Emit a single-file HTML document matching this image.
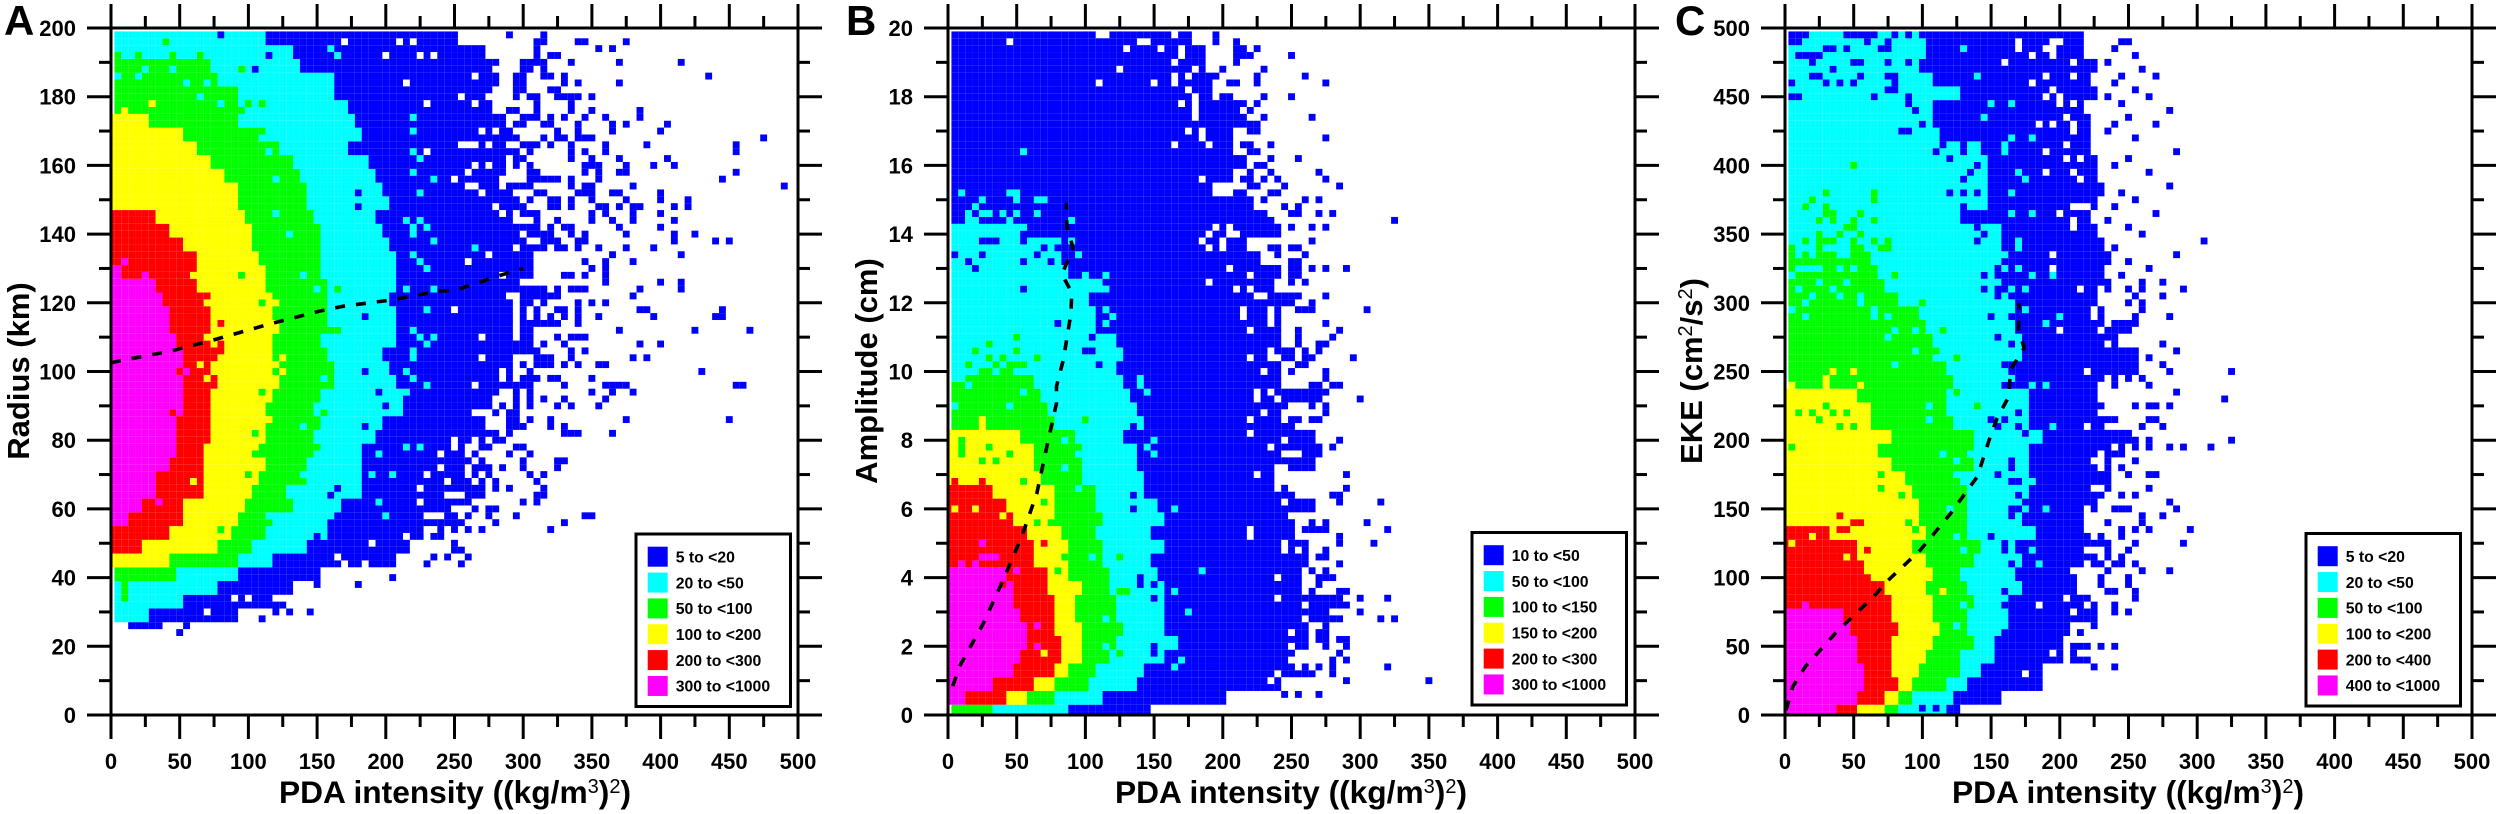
<!DOCTYPE html>
<html lang="en">
<head>
<meta charset="utf-8">
<title>PDA intensity density panels</title>
<style>
html,body{margin:0;padding:0;background:#fff;width:2500px;height:814px;overflow:hidden}
svg{display:block}
text{font-family:"Liberation Sans",Arial,sans-serif;font-weight:700;fill:#000}
</style>
</head>
<body>
<svg id="figure" xmlns="http://www.w3.org/2000/svg" width="2500" height="814" viewBox="0 0 2500 814">
  <rect x="0" y="0" width="2500" height="814" fill="#fff"/>
  <text x="4" y="35" font-size="42">A</text>
  <text x="846" y="35" font-size="42">B</text>
  <text x="1675" y="35" font-size="42">C</text>
  <text transform="translate(29,371) rotate(-90)" text-anchor="middle" font-size="31">Radius (km)</text>
  <text transform="translate(877,371) rotate(-90)" text-anchor="middle" font-size="31">Amplitude (cm)</text>
  <text transform="translate(1702,371) rotate(-90)" text-anchor="middle" font-size="31">EKE (cm<tspan dy="-10" font-size="20" font-weight="400">2</tspan><tspan dy="10">/s</tspan><tspan dy="-10" font-size="20" font-weight="400">2</tspan><tspan dy="10">)</tspan></text>
  <text x="455" y="803" text-anchor="middle" font-size="31.7">PDA intensity ((kg/m<tspan dy="-10" font-size="20" font-weight="400">3</tspan><tspan dy="10">)</tspan><tspan dy="-10" font-size="20" font-weight="400">2</tspan><tspan dy="10">)</tspan></text>
  <text x="1291" y="803" text-anchor="middle" font-size="31.7">PDA intensity ((kg/m<tspan dy="-10" font-size="20" font-weight="400">3</tspan><tspan dy="10">)</tspan><tspan dy="-10" font-size="20" font-weight="400">2</tspan><tspan dy="10">)</tspan></text>
  <text x="2128" y="803" text-anchor="middle" font-size="31.7">PDA intensity ((kg/m<tspan dy="-10" font-size="20" font-weight="400">3</tspan><tspan dy="10">)</tspan><tspan dy="-10" font-size="20" font-weight="400">2</tspan><tspan dy="10">)</tspan></text>
</svg>
<script>
const xTickLabels=[0,50,100,150,200,250,300,350,400,450,500];
const yTickLabelsA=[0,20,40,60,80,100,120,140,160,180,200];
const yTickLabelsB=[0,2,4,6,8,10,12,14,16,18,20];
const yTickLabelsC=[0,50,100,150,200,250,300,350,400,450,500];
const classColors=['#0000ff','#00ffff','#00ff00','#ffff00','#ff0000','#ff00ff'];
const legendLabelsA=['5 to <20','20 to <50','50 to <100','100 to <200','200 to <300','300 to <1000'];
const legendLabelsB=['10 to <50','50 to <100','100 to <150','150 to <200','200 to <300','300 to <1000'];
const legendLabelsC=['5 to <20','20 to <50','50 to <100','100 to <200','200 to <400','400 to <1000'];

/* Class upper limits in PDA intensity, one value per 2-row band, from the lowest band up */
const aMagenta=[0,0,0,0,0,0,0,0,0,0,0,0,0,0,12,24,30,34,40,45,45,45,50,50,50,50,50,45,42,40,36,32,5,0,0,0,0,0,0,0,0,0,0,0,0,0,0,0,0,0];
const aRed=[0,0,0,0,0,0,0,0,0,0,0,0,22,42,51,50,65,66,66,68,71,71,71,72,76,73,76,73,73,70,67,64,64,60,50,41,30,0,0,0,0,0,0,0,0,0,0,0,0,0];
const aYellow=[0,0,0,0,0,0,0,0,0,0,0,40,75,85,93,98,100,108,110,107,110,110,113,115,120,115,115,115,120,118,115,112,110,106,103,102,99,94,90,80,72,62,52,25,0,0,0,0,0,0];
const aGreen=[0,0,0,0,0,0,0,0,0,0,45,90,100,110,118,130,128,135,140,145,145,150,149,150,162,161,157,153,157,157,157,157,152,150,150,150,147,143,143,136,130,120,108,94,95,90,75,72,0,0];
const aCyan=[0,0,0,0,0,0,0,25,50,75,90,118,140,158,160,168,180,184,184,184,193,195,210,212,208,200,198,208,209,205,200,205,205,205,200,198,194,200,198,190,186,170,184,177,170,162,160,138,133,112];
const aBlue=[0,0,0,0,0,0,0,90,115,130,150,205,215,225,245,245,250,250,255,262,270,270,280,280,290,290,295,295,290,290,290,295,305,305,300,295,290,295,290,285,285,285,290,285,275,275,280,280,270,250];

const bMagenta=[0,10,30,46,51,56,56,51,46,46,40,0,0,0,0,0,0,0,0,0,0,0,0,0,0,0,0,0,0,0,0,0,0,0,0,0,0,0,0,0,0,0,0,0,0,0,0,0,0,0];
const bRed=[0,40,62,75,80,80,75,75,75,71,71,60,60,56,46,40,31,0,0,0,0,0,0,0,0,0,0,0,0,0,0,0,0,0,0,0,0,0,0,0,0,0,0,0,0,0,0,0,0,0];
const bYellow=[0,55,78,88,97,97,97,93,93,97,88,88,88,83,77,77,77,67,62,60,52,0,0,0,0,0,0,0,0,0,0,0,0,0,0,0,0,0,0,0,0,0,0,0,0,0,0,0,0,0];
const bGreen=[33,75,100,107,117,123,125,122,122,117,117,111,111,107,112,107,107,97,97,93,91,77,72,67,60,0,0,0,0,0,0,0,0,0,0,0,0,0,0,0,0,0,0,0,0,0,0,0,0,0];
const bCyan=[85,110,135,142,157,167,157,157,157,157,152,150,157,148,157,150,147,142,142,137,128,142,137,133,125,123,125,120,108,108,102,111,87,82,82,55,0,0,0,0,0,0,0,0,0,0,0,0,0,0];
const bBlue=[147,200,240,262,254,262,262,277,286,256,258,262,262,253,252,266,254,237,267,271,267,252,247,271,242,244,252,242,242,243,252,237,242,227,218,242,232,215,190,205,215,205,208,215,212,193,191,185,188,176];

const cMagenta=[36,51,56,56,51,51,46,40,0,0,0,0,0,0,0,0,0,0,0,0,0,0,0,0,0,0,0,0,0,0,0,0,0,0,0,0,0,0,0,0,0,0,0,0,0,0,0,0,0,0];
const cRed=[51,70,80,76,76,76,81,76,76,71,62,56,51,30,0,0,0,0,0,0,0,0,0,0,0,0,0,0,0,0,0,0,0,0,0,0,0,0,0,0,0,0,0,0,0,0,0,0,0,0];
const cYellow=[74,81,94,98,103,108,113,108,108,103,108,102,94,102,97,97,90,87,78,68,78,62,62,50,0,0,0,0,0,0,0,0,0,0,0,0,0,0,0,0,0,0,0,0,0,0,0,0,0,0];
const cGreen=[84,93,118,128,128,137,132,132,137,132,128,137,142,132,132,130,132,128,136,132,132,123,118,117,123,118,112,107,102,97,83,73,67,60,0,0,0,0,0,0,0,0,0,0,0,0,0,0,0,0];
const cCyan=[118,123,132,142,153,154,162,164,162,174,169,171,166,182,171,176,177,177,177,177,186,176,177,177,168,163,174,173,168,168,166,159,153,155,159,157,128,149,149,147,147,142,113,108,108,128,108,98,103,103];
const cBlue=[127,157,188,188,210,208,208,227,222,213,213,227,237,222,217,227,232,237,237,247,251,242,230,227,233,257,257,243,253,231,227,237,232,235,232,228,222,225,230,225,225,220,220,220,215,225,222,225,215,218];

/* Individual bins that differ from the bands: [PDA intensity, y value] */
const aSpeckBlue=[[15,26],[20,26],[25,26],[30,26],[35,26],[50,24],[55,26],[110,28],[120,30],[120,32],[125,32],[130,30],[145,30],[150,38],[180,38],[206,40],[140,40],[230,44],[256,44],[246,46],[260,46],[236,46],[251,48],[256,48],[251,50],[321,54],[271,54],[260,54],[251,54],[331,56],[280,56],[296,58],[345,58],[350,58],[275,58],[265,60],[275,60],[280,60],[300,62],[260,62],[311,62],[316,64],[311,64],[316,66],[291,66],[280,66],[311,68],[270,68],[280,68],[305,70],[316,70],[275,70],[326,72],[300,72],[286,72],[265,72],[270,72],[275,72],[331,74],[326,74],[300,74],[270,74],[305,76],[288,76],[293,78],[298,78],
[270,82],[275,82],[280,82],[285,80],[290,82],[280,80],[270,78],[275,78],[265,76],[250,74],[255,74],[260,74],[245,72],[250,72],[255,72],[245,70],[250,70],[255,70],[265,70],[255,68],[260,68],[250,66],[255,66],[260,66],[265,66],[270,66],[260,64],[265,64],[270,64],[255,62],[250,62],[245,60],[240,60],[260,58],[250,58],[255,56],[250,56],[245,56],[240,54],[235,52],[240,52],
[298,190],[303,190],[298,188],[303,188],[293,186],[298,186],[296,184],[296,182],[300,184],[300,182],[296,180],[305,180],[310,180],[310,178],[310,176],[288,176],[293,176],[296,176],[300,174],[305,174],[310,174],[296,172],[300,172],[315,172],[320,172],[286,170],[291,170],[293,168],[300,166],[305,166],[310,166],[291,164],[296,164],[305,164],[296,162],[300,162],[296,160],[305,160],[305,158],[305,156],[310,158],[310,156],[315,156],[320,156],[325,156],[296,154],[300,154],[305,154],[310,152],[315,152],[320,150],[325,150],[320,148],[325,148],[305,150],[300,148],[298,146],[303,146],[310,146],[310,144],[300,142],[305,142],[310,142],[320,142],[305,140],[310,140],[315,140],[320,140],[315,138],[320,138],[325,138],[300,136],[305,136],[310,136],[315,136],[325,136],[330,136],
[291,198],[316,198],[315,196],[310,196],[341,196],[345,196],[376,196],[356,194],[366,194],[310,194],[310,192],[320,192],[325,192],[336,190],[371,190],[416,190],[310,190],[315,190],[315,188],[436,186],[316,186],[320,186],[330,186],[330,184],[341,184],[371,184],[320,182],[325,182],[325,180],[330,180],[335,180],[341,180],[351,180],[335,178],[335,176],[351,176],[386,176],[386,174],[320,174],[330,174],[345,174],[360,174],[366,172],[366,170],[376,172],[406,172],[401,170],[341,172],[341,170],[341,168],[345,168],[351,168],[325,170],[325,168],[330,168],[476,168],[316,168],[320,166],[335,166],[335,164],[335,162],[360,166],[360,164],[391,166],[456,166],[456,164],[345,164],[351,162],[351,160],[371,162],[406,162],[411,160],[396,160],[376,160],[376,158],[371,158],[345,160],[355,160],[345,158],[355,158],[355,156],[456,158],[446,156],[335,156],[335,154],[381,154],[491,154],[345,154],[351,154],[341,152],[345,152],[351,152],[366,152],[371,152],[401,152],[401,150],[421,150],[421,148],[376,150],[335,150],[335,148],[351,150],[356,148],[361,148],[371,148],[381,148],[386,148],[381,146],[381,144],[411,148],[351,146],[351,144],[361,146],[401,146],[366,144],[411,144],[325,144],[371,142],[401,142],[330,142],[335,142],[335,140],[376,140],[411,140],[411,138],[426,140],[441,138],[451,138],[345,140],[345,138],[341,138],[341,136],[356,136],[376,136],[396,136],[366,134],[416,134],[381,132],[345,132],[361,132],[361,130],[361,128],[361,126],[351,130],[335,128],[330,128],[345,128],[401,126],[416,126],[416,124],[386,124],[381,122],[335,124],[341,124],[345,124],[341,120],[341,118],[341,116],[341,114],[351,120],[361,120],[386,118],[391,118],[396,116],[446,118],[446,116],[441,116],[356,116],[371,112],[426,112],[466,112],[325,110],[335,110],[341,110],[345,110],[316,108],[330,108],[386,108],[401,108],[345,106],[335,106],[335,104],[320,104],[381,104],[391,104],[330,102],[341,102],[356,102],[361,102],[431,100],[351,98],[330,96],[361,96],[366,96],[371,96],[376,96],[456,96],[461,96],[351,94],[366,94],[381,94],[361,92],[316,92],[330,92],[325,90],[335,90],[356,90],[376,86],[451,86],[306,86],[320,86],[320,84],[330,84],[330,82],[335,82],[341,82],[366,82],
[300,124],[305,124],[310,124],[315,124],[325,124],[300,122],[305,122],[310,122],[315,122],[320,122],[325,122],[300,120],[305,120],[315,120],[300,118],[310,118],[325,118],[330,118],[300,116],[310,116],[320,116],[330,116],[300,114],[305,114],[310,114],[315,114],[320,114],[325,114],[300,112],[305,112],[300,110],[305,110],[300,108],[305,108],[300,106],[305,106],[310,106],[315,104],[310,104],[300,102],[310,102],[315,102],[320,102],[295,100],[305,100],[300,98],[305,98],[310,98],[320,98],[325,98],[295,96],[300,96],[305,96],[295,94],[305,94],[295,92],[305,92],[285,90],[295,90],[305,90],[280,88],[290,88],[295,88],[285,86],[290,86],[295,86],[285,84],[290,84],[295,84],[300,84],
[80,198],[105,188],[115,192],[115,196],[180,152],[180,148],[185,116],[185,100],[195,94],[200,90],[185,84],[165,66],[160,64],[170,62],[175,60],[160,56],[150,52]];
const aSpeckCyan=[[220,174],[220,170],[220,164],[225,162],[220,158],[235,156],[225,152],[215,144],[225,144],[230,142],[220,142],[220,140],[235,138],[265,136],[218,134],[225,132],[230,130],[215,124],[235,124],[230,118],[222,112],[225,110],[235,110],[230,108],[220,106],[220,104],[215,100],[220,98],[230,96],[215,94],[215,77],[225,78],[195,76],[205,70],[190,70],[195,62],[200,58],[140,128],[150,124],[140,84],[153,98],[115,58],[5,186],[20,186],[25,188],[45,188],[55,184],[70,183],[65,180],[80,178],[95,178],[120,156],[115,164],[120,146],[130,140],[140,128],[160,194],[165,192]];
const aSpeckGreen=[[165,124],[155,88],[140,68],[150,78],[162,112],[165,112],[95,128],[110,119],[110,94],[105,82],[105,76],[98,70],[78,53],[40,196],[5,192],[20,192],[43,192],[65,192],[15,190],[20,190],[25,190],[30,190],[35,190],[95,188],[110,178],[100,178],[110,170],[10,34],[10,36],[10,38],[10,40]];
const aSpeckYellow=[[120,120],[125,104],[120,102],[125,100],[115,86],[64,102],[68,98],[60,128],[70,110],[60,68],[8,176],[30,178]];
const aSpeckRed=[[78,114],[78,106],[78,108],[68,122],[44,87],[48,100]];
const aSpeckMagenta=[[53,100],[33,62],[18,60],[24,128],[8,126],[18,126],[3,124],[8,132]];
const aHoles=[[170,196],[210,196],[220,196],[200,192],[215,184],[225,192],[235,192],[230,178],[255,180],[265,178],[276,180],[265,186],[278,188],[270,170],[280,170],[255,166],[260,166],[265,166],[276,166],[230,164],[265,160],[276,160],[260,158],[250,156],[286,156],[286,154],[260,154],[265,154],[271,152],[280,148],[286,146],[296,146],[296,136],[276,134],[260,132],[286,128],[291,122],[250,118],[296,116],[271,110],[296,110],[271,104],[296,104],[286,100],[286,98],[296,100],[265,96],[291,94],[280,92],[280,90],[265,88],[270,88],[276,88],[276,86],[276,84],[286,86],[286,84],[270,110],[270,104],[250,80],[250,78],[265,80],[240,76],[260,78],[260,76],[270,76],[240,72],[230,70],[246,68],[225,66],[225,62],[246,64],[251,64],[255,60],[251,60],[230,58],[235,58],[240,58],[215,52],[190,50],[230,52],[230,50],[210,46],[165,46],[170,44],[185,44],[180,42],[190,42],[220,48],[90,34],[100,34],[70,30]];

const bSpeckBlue=[[195,19.8],[195,19.6],[210,19.6],[210,19.4],[210,19.2],[210,19],[215,19.4],[215,19.2],[220,19.2],[225,19.4],[250,19.2],[230,18.8],[200,18.8],[225,18.6],[225,18.4],[260,18.6],[275,18.4],[195,18.6],[205,18.4],[210,18.4],[200,18],[205,18],[230,18],[250,18],[210,17.8],[215,17.8],[225,17.8],[220,17.6],[265,17.4],[230,17.4],[205,17.4],[210,17.6],[215,17.2],[220,17.2],[225,17.2],[220,17],[225,17],[275,16.8],[205,16.8],[205,16.6],[215,16.6],[220,16.6],[220,16.4],[225,16.4],[235,16.6],[235,16.2],[255,16.2],[210,16.2],[215,16.2],[225,16],[230,16],[220,15.8],[215,15.6],[220,15.6],[235,15.8],[240,15.6],[270,15.8],[275,15.6],[230,15.6],[245,15.4],[285,15.4],[220,15.4],[225,15.4],[235,15.2],[240,15.2],[210,15.2],[215,15.2],[215,15],[220,15],[215,14.8],[220,14.8],[230,15],[260,15],[270,15],[245,14.8],[255,14.8],[250,14.6],[255,14.6],[270,14.6],[280,14.6],[225,14.6],[230,14.6],[325,14.4],[235,14.4],[230,14.2],[235,14.2],[240,14.2],[240,14],[250,14.2],[265,14.2],[275,14.2],[265,13.8],[235,13.6],[240,13.6],[240,13.4],[250,13.6],[255,13.6],[260,13.4],[250,13.2],[255,13.2],[250,13],[255,13],[250,12.8],[255,12.8],[250,12.6],[265,13],[275,13],[290,13],[260,12.6],[255,12.2],[275,12.2],[265,12],[265,11.8],[260,11.8],[255,11.8],[305,11.8],[275,11.4],[285,11.2],[255,11.2],[255,11],[255,10.8],[280,11],[270,10.8],[275,10.8],[270,10.6],[260,10.6],[260,10.4],[265,10.4],[295,10.4],[255,10.2],[260,10.2],[250,10],[275,10],[275,9.8],[265,9.6],[270,9.6],[280,9.6],[285,9.6],[275,9.4],[300,9.2],[265,9],[275,9],[275,8.8],[265,8.6],[270,8.6],[255,8.6],[285,8],[280,7.8],[290,7],[290,6.6],[280,6.4],[285,6.4],[285,6.2],[315,6.2],[265,5.6],[275,5.6],[305,5.6],[260,5.4],[265,5.4],[270,5.4],[275,5.4],[320,5.4],[285,5.2],[285,5],[310,5],[275,4.8],[275,4.6],[270,4.6],[285,4.4],[265,4.2],[275,4.2],[270,4],[275,4],[280,4],[270,3.8],[285,3.6],[290,3.6],[265,3.6],[300,3.4],[320,3.4],[265,3.4],[270,3.4],[275,3.4],[280,3.4],[285,3.4],[290,3.2],[300,3],[270,3],[275,3],[280,2.8],[285,2.8],[315,2.8],[325,2.8],[275,2.6],[270,2.4],[275,2.4],[270,2.2],[275,2.2],[285,2.2],[290,2.2],[290,2],[275,2],[285,1.8],[280,1.6],[280,1.4],[280,1.2],[290,1.6],[320,1.4],[290,1],[350,1],[270,1.4],[265,1.2],[270,0.6],[255,0.6],[245,0.6],
[5,13.4],[25,13.4],[15,13.2],[20,13],[55,13.2],[65,13.4],[70,13.6],[80,13.6],[75,13.2],[55,14],[55,13.8],[55,12.4],[25,13.8],[30,13.8],[35,13.8],[80,11.4],[105,11],[100,10.6],[105,10.6],[110,10.2],[135,8.4],[135,8.2],[130,8],[140,7.8],[140,7.6],[140,7.4],[140,7.2],[145,6.6],[145,6.4],[135,6.4],[135,6],[150,5.4],[150,5.2],[150,4.6],[150,4.4],[140,4],[140,3.8],[150,3.8],[150,3.4],[150,2],[150,1.8],[145,1.4]];
const bSpeckCyan=[[10,15.2],[45,15.2],[50,15.2],[50,15],[65,15],[70,15],[25,15],[20,14.8],[15,14.6],[15,14.4],[20,14.4],[25,14.6],[30,14.6],[40,14.6],[50,14.6],[65,14.6],[45,14.4],[90,14.4],[55,16.4],[90,13.8],[95,13.4],[100,12.8],[105,12.6],[115,12.8],[115,12.4],[185,4.2],[165,6],[175,3],[170,1.6],[165,1.4],[165,3.6],[150,8],[145,7.8],[152,7.6],[140,9.8],[140,9.6],[145,9.4],[115,11.8],[120,11.6],[115,11.4],[115,12.4],[105,4.6],[115,2.8],[115,2],[85,7.9],[85,7.2],[95,6.6],[15,9.6],[5,9],[45,9],[55,9.4],[5,9.8],[10,9.8]];
const bSpeckGreen=[[50,11],[30,10.8],[20,10.6],[50,10.6],[30,10.4],[40,10.4],[65,10.4],[15,10.2],[35,10.2],[45,10.2],[50,10.2],[55,10.2],[25,10],[30,10],[40,10],[45,10],[10,7.6],[25,7.4],[35,7.4],[10,8],[10,7.8],[30,7.8],[45,7.6],[55,6.8],[70,6.2],[65,5.6],[75,5.6],[85,4.6],[80,4.2],[100,8.6],[95,7.8],[125,4.6],[128,3.6],[123,3.6],[125,1.8]];
const bSpeckYellow=[[5,8],[15,8],[25,8.4],[25,8.6],[35,8.2],[45,8.2],[5,6],[18,6],[38,5.8],[70,1.8]];
const bSpeckRed=[[5,6.8],[25,6.8],[70,5],[38,3.8]];
const bSpeckMagenta=[[25,5],[25,4.6],[30,4.6],[35,4.6],[10,4.4],[18,4.4],[50,4.2],[65,2.6],[65,2]];
const bHoles=[[45,19.6],[110,19.8],[115,19.8],[130,19.4],[140,19.6],[145,19.6],[155,19.4],[125,18.8],[110,18.4],[150,18.4],[165,19],[165,19.8],[170,19.4],[170,19.2],[165,18.6],[165,18.4],[175,18.6],[180,18.8],[175,18.2],[170,17.8],[180,18],[180,17.8],[180,17.6],[180,17.4],[175,17],[165,16.6],[185,17],[185,16.8],[190,16.6],[185,15.6],[190,12.6],[205,13],[195,14.2],[190,14],[185,13.8],[190,13.6],[200,13.8],[200,13.6],[205,14.2],[205,14],[210,14],[210,12.4],[220,12.8],[220,12.4],[225,12.2],[230,12.2],[215,11.8],[215,11.6],[235,11.8],[235,11.6],[235,11.4],[220,11.2],[220,10.4],[235,10.6],[235,10.4],[240,10.4],[230,10],[225,9.4],[225,9.2],[235,9.4],[240,9.2],[230,8.8],[220,8.6],[220,8.2],[245,8.8],[245,8.6],[245,8],[235,7.8],[245,7.6],[250,7.6],[255,7.6],[240,7.2],[245,7.2],[225,7],[240,6.8],[240,6.6],[250,6.6],[245,6.2],[250,5.8],[220,5.4],[220,5.2],[245,5],[245,4.8],[255,4.8],[240,4],[240,3.4],[260,4],[260,3.8],[260,3.6],[250,2.4],[250,2],[250,1.6],[260,1.6],[240,1.2],[235,1],[210,0.6],[255,1.4],[260,2.8],[260,3.2]];

const cSpeckBlue=[[325,250],[325,200],[320,230],[310,195],[290,195],[280,195],[265,200],[265,195],[255,200],[255,195],[280,225],[265,225],[270,225],[265,215],[270,215],[275,210],[260,210],[255,225],[285,235],[265,240],[260,245],[250,245],[240,245],[240,240],[280,250],[275,255],[265,260],[285,265],[275,270],[255,265],[280,290],[255,290],[255,285],[260,300],[260,295],[250,300],[250,310],[255,305],[260,315],[260,310],[290,310],[275,305],[255,185],[245,180],[250,175],[265,175],[270,175],[265,165],[235,165],[245,160],[255,160],[280,155],[285,150],[240,150],[245,150],[250,150],[275,145],[260,145],[260,140],[235,140],[295,135],[265,135],[255,135],[245,135],[245,130],[230,130],[290,125],[255,125],[250,120],[235,120],[235,115],[245,115],[245,110],[240,110],[230,110],[255,110],[260,105],[280,105],[235,105],[250,100],[250,95],[230,100],[230,95],[235,90],[240,90],[255,90],[255,85],[225,80],[240,80],[240,75],[250,75],[220,75],[225,70],[225,65],[230,50],[240,50],[225,35],[240,35],[220,40],[215,40],[210,40],[210,50],[215,50],[220,50],[215,60],[100,5],[110,5],
[245,490],[250,490],[240,485],[255,480],[235,475],[260,470],[245,465],[270,465],[240,460],[255,455],[235,450],[265,450],[245,445],[280,440],[250,435],[240,430],[270,430],[235,425],[255,420],[285,410],[250,405],[240,400],[265,395],[280,385],[245,380],[255,375],[240,370],[270,365],[235,360],[250,355],[260,350],[305,345],[240,340],[285,335],[250,330],[265,325],[275,315],[245,320],
[5,495],[10,495],[15,495],[5,490],[10,490],[45,495],[50,495],[55,495],[60,495],[65,495],[60,490],[80,495],[90,495],[100,495],[75,490],[70,485],[75,485],[30,485],[35,485],[45,485],[10,480],[15,480],[20,480],[25,480],[20,475],[50,475],[55,475],[75,475],[90,475],[35,470],[20,465],[25,465],[55,465],[75,465],[80,465],[80,460],[80,455],[75,455],[5,460],[30,460],[40,460],[50,460],[5,450],[10,450],[65,450],[90,450],[90,445],[95,440],[100,430],[85,425],[90,425],[115,420],[115,415],[110,410],[120,405],[130,415],[130,410],[125,425],[140,400],[135,395],[130,390],[120,380],[130,380],[140,380],[130,370],[130,365],[140,355],[145,350],[140,345],[145,320],[145,310],[155,310],[155,305],[165,305],[150,290],[165,290],[155,275],[165,270],[160,255],[165,255],[160,240],[165,240],[150,215],[160,215],[155,210],[170,220],[170,210],[175,205],[165,185],[165,180],[155,175],[165,170],[170,170],[170,160],[175,155],[165,150],[170,150],[165,145],[150,130],[160,125],[160,120],[165,110],[160,90],[160,80],[165,85],[160,60],[160,55],[155,50]];
const cSpeckCyan=[[150,445],[165,445],[145,435],[130,485],[140,465],[165,420],[180,420],[160,415],[160,410],[170,395],[175,390],[165,380],[165,365],[180,365],[170,345],[170,340],[160,335],[160,325],[170,325],[180,320],[195,320],[175,310],[165,310],[175,295],[200,290],[190,285],[180,240],[190,240],[195,210],[190,150],[185,110],[180,120],[180,170],[10,335],[20,335],[40,335],[45,335],[10,325],[15,325],[20,325],[25,325],[40,325],[50,325],[5,320],[10,310],[25,315],[35,310],[45,315],[20,305],[40,305],[55,305],[55,300],[15,300],[5,295],[15,290],[65,295],[65,290],[75,290],[80,280],[75,275],[95,280],[95,265],[80,255],[110,260],[105,225],[105,215],[115,190],[125,185],[125,175],[120,150],[125,130],[130,120],[130,80],[125,65],[130,45]];
const cSpeckGreen=[[50,400],[30,380],[65,380],[65,375],[20,375],[15,370],[30,370],[30,365],[35,365],[35,360],[55,365],[25,360],[50,360],[65,360],[45,355],[50,355],[25,350],[40,350],[55,350],[15,345],[25,345],[30,345],[35,345],[50,345],[65,345],[75,345],[5,340],[25,340],[50,340],[55,340],[70,340],[75,340],[80,320],[100,300],[115,280],[125,260],[125,235],[140,225],[135,205],[135,200],[135,195],[30,225],[10,220],[20,220],[35,220],[45,220],[25,215],[40,210],[50,210],[5,195],[70,175],[70,165],[85,160],[90,140],[95,135]];
const cSpeckYellow=[[5,240],[28,245],[28,240],[35,250],[50,250],[55,240],[15,235],[40,235],[45,230],[75,205],[70,205],[115,90],[20,128],[5,125],[45,115],[60,105],[55,120],[55,115]];
const cSpeckRed=[[40,145],[50,140],[55,140],[40,135],[45,135],[60,120]];
const cSpeckMagenta=[[15,80]];
const cHoles=[[215,310],[230,310],[230,305],[225,295],[225,290],[235,285],[200,280],[230,280],[235,270],[220,250],[235,245],[235,240],[230,240],[230,220],[220,210],[235,210],[240,210],[240,195],[230,190],[230,185],[225,185],[230,180],[225,165],[230,165],[230,155],[220,150],[220,145],[225,145],[220,135],[225,135],[220,120],[225,120],[230,120],[210,105],[215,105],[215,100],[215,95],[220,110],[205,85],[185,80],[210,75],[220,80],[210,65],[210,60],[205,55],[205,50],[205,45],[205,40],[215,55],[193,45],[175,30],[168,490],[170,485],[160,475],[180,480],[190,485],[195,485],[195,480],[195,490],[200,490],[210,475],[180,460],[190,465],[210,465],[195,455],[190,450],[200,450],[200,445],[210,445],[205,435],[185,430],[195,430],[210,430],[210,425],[205,415],[190,410],[205,405],[215,405],[190,395],[210,395],[215,390],[210,370],[215,370],[220,370],[200,365],[210,360],[210,355],[195,335],[195,325],[215,310]];

/* Dashed mean curves */
const aCurveX=[0,5,44,73,117,151,169,202,239,251,285,300];
const aCurveY=[102.5,103,106,109,114,117.5,119,120.7,123.4,123.7,128.2,130];
const bCurveX=[3.4,8.8,25.8,39,53.7,64.7,72,79,79,84,89.5,90,83,91,86.5,86];
const bCurveY=[0.84,1.45,2.67,3.83,5.2,6.46,7.82,9.08,9.57,10.35,11.7,12.3,12.83,13.6,14.2,14.9];
const cCurveX=[0.8,5.6,14.6,37.7,64.4,74,98.5,120,140,149.5,154.4,163,164,174,170,170.4];
const cCurveY=[3.5,20.5,35,60.6,86,97,120,146,173.6,203,216,232,251,267,280.5,300];

const SVGNS='http://www.w3.org/2000/svg';
const fig=document.getElementById('figure');
const plotTop=28,plotBottom=715,plotSize=687,xMax=500,numBins=100;

function makeLine(parent,x1,y1,x2,y2,w){
  const l=document.createElementNS(SVGNS,'line');
  
  
  l.setAttribute('x1',x1);l.setAttribute('y1',y1);l.setAttribute('x2',x2);l.setAttribute('y2',y2);
  l.setAttribute('stroke','#000');l.setAttribute('stroke-width',w);
  parent.appendChild(l);
}
function makeLabel(parent,x,y,str,anchor,size){
  const t=document.createElementNS(SVGNS,'text');
  
  
  t.setAttribute('x',x);t.setAttribute('y',y);t.setAttribute('text-anchor',anchor);t.setAttribute('font-size',size);
  t.textContent=str;
  parent.appendChild(t);
  return t;
}
function drawPanel(p){
  const xS=v=>p.x0+v*plotSize/xMax;
  const yMax=p.yLabels[p.yLabels.length-1];
  const yS=v=>plotBottom-v*plotSize/yMax;
  const rowStep=yMax/numBins;
  const grid=new Map();
  for(let k=0;k<numBins;k++){
    const band=Math.floor(k/2);
    for(let col=0;col<numBins;col++){
      const xc=col*xMax/numBins;
      let cls=-1;
      for(let c=5;c>=0;c--){
        const limit=p.edges[c][band];
        if(limit>0&&xc<=limit){cls=c;break;}
      }
      if(col===0&&cls<3) cls=-1;
      if(cls>=0) grid.set(col+'_'+k,cls);
    }
  }
  p.specks.forEach((list,c)=>{
    list.forEach(pt=>grid.set(Math.round(pt[0]/5)+'_'+Math.round(pt[1]/rowStep),c));
  });
  p.holes.forEach(pt=>grid.delete(Math.round(pt[0]/5)+'_'+Math.round(pt[1]/rowStep)));

  const clip=document.createElementNS(SVGNS,'clipPath');
  clip.setAttribute('id','clip-'+p.id);
  const cr=document.createElementNS(SVGNS,'rect');
  cr.setAttribute('x',p.x0);cr.setAttribute('y',plotTop);cr.setAttribute('width',plotSize);cr.setAttribute('height',plotSize);
  clip.appendChild(cr);fig.appendChild(clip);

  const g=document.createElementNS(SVGNS,'g');
  
  
  g.setAttribute('clip-path','url(#clip-'+p.id+')');
  grid.forEach((cls,key)=>{
    const parts=key.split('_');
    const xv=+parts[0]*5,yv=+parts[1]*rowStep;
    const r=document.createElementNS(SVGNS,'rect');
    
    
    r.setAttribute('x',xS(xv-2.5).toFixed(2));
    r.setAttribute('y',yS(yv+rowStep/2).toFixed(2));
    r.setAttribute('width',(plotSize/numBins).toFixed(2));
    r.setAttribute('height',(plotSize/numBins).toFixed(2));
    r.setAttribute('fill',classColors[cls]);
    g.appendChild(r);
  });
  fig.appendChild(g);

  const curve=document.createElementNS(SVGNS,'polyline');
  
  
  curve.setAttribute('points',p.curveX.map((v,i)=>xS(v).toFixed(1)+','+yS(p.curveY[i]).toFixed(1)).join(' '));
  curve.setAttribute('fill','none');curve.setAttribute('stroke','#000');
  curve.setAttribute('stroke-width','3.6');curve.setAttribute('stroke-dasharray','10 11');
  fig.appendChild(curve);

  const frame=document.createElementNS(SVGNS,'rect');
  
  
  frame.setAttribute('x',p.x0);frame.setAttribute('y',plotTop);frame.setAttribute('width',plotSize);frame.setAttribute('height',plotSize);
  frame.setAttribute('fill','none');frame.setAttribute('stroke','#000');frame.setAttribute('stroke-width','3');
  fig.appendChild(frame);

  const axes=document.createElementNS(SVGNS,'g');
  
  
  fig.appendChild(axes);
  const right=p.x0+plotSize;
  xTickLabels.forEach((v,i)=>{
    const x=xS(v);
    makeLine(axes,x,plotBottom,x,plotBottom+24,3);
    makeLine(axes,x,plotTop,x,plotTop-24,3);
    makeLabel(axes,x,769,String(v),'middle',22);
    if(i<xTickLabels.length-1){
      const mx=xS((v+xTickLabels[i+1])/2);
      makeLine(axes,mx,plotBottom,mx,plotBottom+12,3);
      makeLine(axes,mx,plotTop,mx,plotTop-12,3);
    }
  });
  p.yLabels.forEach((v,i)=>{
    const y=yS(v);
    makeLine(axes,p.x0,y,p.x0-24,y,3);
    makeLine(axes,right,y,right+24,y,3);
    makeLabel(axes,p.x0-35,y+8,String(v),'end',22);
    if(i<p.yLabels.length-1){
      const my=yS((v+p.yLabels[i+1])/2);
      makeLine(axes,p.x0,my,p.x0-12,my,3);
      makeLine(axes,right,my,right+12,my,3);
    }
  });

  const leg=document.createElementNS(SVGNS,'g');
  
  
  const box=document.createElementNS(SVGNS,'rect');
  
  
  box.setAttribute('x',p.legend.x);box.setAttribute('y',p.legend.y);box.setAttribute('width',154.5);box.setAttribute('height',172.5);
  box.setAttribute('fill','#fff');box.setAttribute('stroke','#000');box.setAttribute('stroke-width','3');
  leg.appendChild(box);
  p.legendLabels.forEach((str,i)=>{
    const sy=p.legend.y+12.7+i*25.85;
    const sw=document.createElementNS(SVGNS,'rect');
    
    
    sw.setAttribute('x',p.legend.x+11.7);sw.setAttribute('y',sy);sw.setAttribute('width',20);sw.setAttribute('height',20);
    sw.setAttribute('fill',classColors[i]);
    leg.appendChild(sw);
    const t=document.createElementNS(SVGNS,'text');
    
    
    t.setAttribute('x',p.legend.x+39.7);t.setAttribute('y',sy+15.7);t.setAttribute('font-size','15.8');
    t.textContent=str;
    leg.appendChild(t);
  });
  fig.appendChild(leg);
}

drawPanel({id:'radius',x0:111,yLabels:yTickLabelsA,
  edges:[aBlue,aCyan,aGreen,aYellow,aRed,aMagenta],
  specks:[aSpeckBlue,aSpeckCyan,aSpeckGreen,aSpeckYellow,aSpeckRed,aSpeckMagenta],holes:aHoles,
  curveX:aCurveX,curveY:aCurveY,legendLabels:legendLabelsA,legend:{x:636,y:534}});
drawPanel({id:'amplitude',x0:948,yLabels:yTickLabelsB,
  edges:[bBlue,bCyan,bGreen,bYellow,bRed,bMagenta],
  specks:[bSpeckBlue,bSpeckCyan,bSpeckGreen,bSpeckYellow,bSpeckRed,bSpeckMagenta],holes:bHoles,
  curveX:bCurveX,curveY:bCurveY,legendLabels:legendLabelsB,legend:{x:1472,y:532.5}});
drawPanel({id:'eke',x0:1785,yLabels:yTickLabelsC,
  edges:[cBlue,cCyan,cGreen,cYellow,cRed,cMagenta],
  specks:[cSpeckBlue,cSpeckCyan,cSpeckGreen,cSpeckYellow,cSpeckRed,cSpeckMagenta],holes:cHoles,
  curveX:cCurveX,curveY:cCurveY,legendLabels:legendLabelsC,legend:{x:2306,y:533.5}});
</script>
</body>
</html>
